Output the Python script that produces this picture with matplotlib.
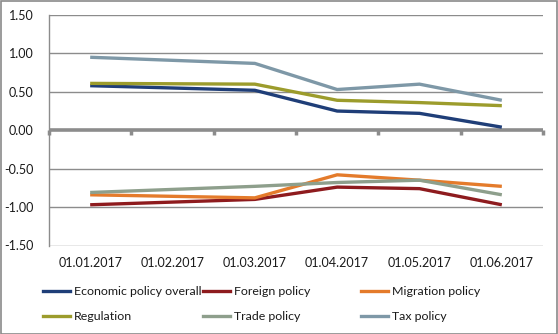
import numpy as np
import matplotlib
matplotlib.use("Agg")
import matplotlib.pyplot as plt
from matplotlib.lines import Line2D

plt.rcParams['font.family'] = ['Lato', 'DejaVu Sans']
plt.rcParams['axes.unicode_minus'] = False

categories = ["01.01.2017", "01.02.2017", "01.03.2017", "01.04.2017", "01.05.2017", "01.06.2017"]

economic = [0.58, None, 0.52, 0.25, 0.22, 0.04]
foreign = [-0.97, None, -0.90, -0.74, -0.76, -0.97]
migration = [-0.84, None, -0.88, -0.58, -0.65, -0.73]
regulation = [0.61, None, 0.60, 0.39, 0.36, 0.32]
trade = [-0.81, None, -0.73, -0.68, -0.65, -0.84]
tax = [0.95, None, 0.87, 0.53, 0.60, 0.39]

series = [
    ("Economic policy overall", economic, "#1F3E78"),
    ("Foreign policy", foreign, "#8E1B1E"),
    ("Migration policy", migration, "#E47B2B"),
    ("Regulation", regulation, "#9C9C2C"),
    ("Trade policy", trade, "#8E9F8C"),
    ("Tax policy", tax, "#7E98A7"),
]

W, H = 558, 334
fig = plt.figure(figsize=(W / 100, H / 100), dpi=100)
fig.patch.set_facecolor("white")
fig.patches.append(plt.Rectangle((0.5 / W, 0.5 / H), 1 - 1.5 / W, 1 - 1.5 / H, transform=fig.transFigure,
                                 fill=False, edgecolor="#8a8a8a", linewidth=1.2))

left, right, top, bottom = 49, 543, 15, 245.5
ax = fig.add_axes([left / W, 1 - bottom / H, (right - left) / W, (bottom - top) / H])

x = np.arange(len(categories))
handles = {}
for name, vals, col in series:
    xs = [xi for xi, v in zip(x, vals) if v is not None]
    ys = [v for v in vals if v is not None]
    ln, = ax.plot(xs, ys, color=col, linewidth=2.4, solid_capstyle='butt', solid_joinstyle='miter', zorder=3)
    handles[name] = ln

ax.set_xlim(-0.5, len(categories) - 0.5)
ax.set_ylim(-1.5, 1.5)
yt = [-1.5, -1.0, -0.5, 0.0, 0.5, 1.0, 1.5]
ax.set_yticks(yt)
ax.set_yticklabels([f"{v:.2f}" for v in yt])
for v in yt:
    if v != 0:
        ax.axhline(v, color="#8c8c8c", linewidth=1.0, zorder=1)
ax.axhline(0, color="#8c8c8c", linewidth=2.6, zorder=2)
# category boundary tick marks hanging below the zero axis
bounds = np.arange(-0.5, len(categories), 1.0)
ax.vlines(bounds, -0.06, 0, colors="#8c8c8c", linewidth=2.5, zorder=2, clip_on=False)

for s in ["top", "right", "bottom"]:
    ax.spines[s].set_visible(False)
ax.spines["left"].set_color("#8c8c8c")
ax.spines["left"].set_linewidth(1.0)
ax.tick_params(axis="y", length=0, pad=11, labelsize=9, labelcolor="#1a1a1a")
ax.set_xticks(x)
ax.set_xticklabels(categories)
ax.tick_params(axis="x", length=0, pad=8, labelsize=9, labelcolor="#1a1a1a")

cols = [(["Economic policy overall", "Regulation"], 43),
        (["Foreign policy", "Trade policy"], 203),
        (["Migration policy", "Tax policy"], 361)]
for names, px in cols:
    hs = [Line2D([], [], color=handles[n].get_color(), linewidth=2.4) for n in names]
    fig.legend(hs, names, loc="upper left", bbox_to_anchor=(px / W, 1 - 286 / H),
               frameon=False, fontsize=8.9, handlelength=2.2, handletextpad=0.3,
               labelspacing=1.15, borderpad=0, borderaxespad=0, labelcolor="#1a1a1a")

fig.savefig("out.png", dpi=100, facecolor="white")
